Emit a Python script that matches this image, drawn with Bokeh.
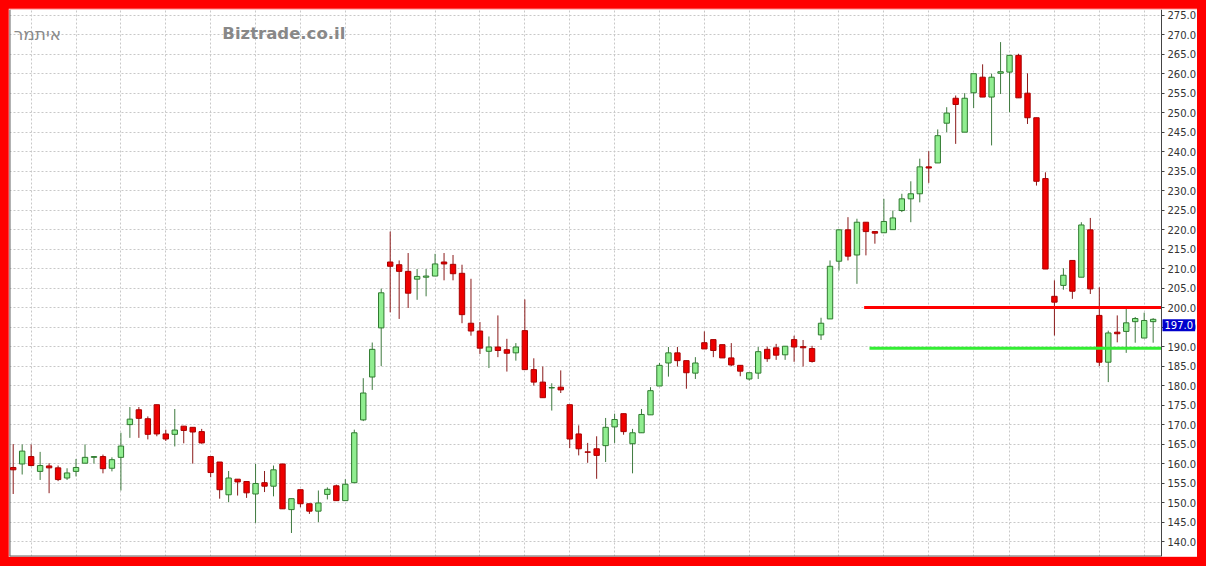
from bokeh.plotting import figure
from bokeh.models import (ColumnDataSource, Range1d, SingleIntervalTicker,
                          PrintfTickFormatter, FixedTicker, Label)
from bokeh.embed import file_html
from bokeh.resources import INLINE

# ---------------- data ----------------
opens = [159.0, 159.9, 161.8, 158.0, 159.4, 158.9, 156.3, 158.0, 160.1, 161.6,
         161.8, 158.8, 161.6, 170.0, 173.8, 171.5, 175.1, 167.6, 167.5, 169.6,
         169.3, 168.2, 161.8, 160.4, 152.0, 156.0, 155.4, 152.2, 155.1, 154.2,
         159.9, 148.2, 153.3, 149.7, 147.8, 152.1, 154.3, 150.5, 155.1, 171.2,
         182.2, 194.8, 211.7, 211.0, 209.3, 207.3, 207.8, 208.1, 211.7, 211.1,
         208.8, 196.0, 194.0, 188.8, 189.9, 189.2, 188.4, 194.1, 184.1, 180.9,
         179.4, 179.6, 175.1, 167.6, 163.0, 163.8, 164.6, 169.4, 172.8, 165.1,
         167.9, 172.5, 179.9, 185.8, 188.4, 186.4, 183.2, 191.0, 191.8, 190.5,
         187.1, 185.2, 181.7, 183.2, 189.3, 189.7, 187.9, 191.8, 190.0, 189.5,
         193.0, 197.1, 211.9, 219.95, 213.5, 221.9, 219.5, 219.2, 220.0, 224.9,
         227.9, 229.2, 236.1, 237.1, 247.3, 253.7, 245.0, 255.1, 259.1, 254.0,
         260.1, 260.4, 264.7, 255.0, 248.7, 233.1, 202.9, 205.7, 212.1, 207.8,
         219.95, 198.0, 186.0, 193.7, 193.9, 196.4, 192.2, 196.4]
highs = [165.0, 164.9, 164.9, 163.0, 160.1, 159.5, 158.8, 161.2, 164.9, 161.8,
         162.3, 161.6, 167.9, 174.5, 174.5, 172.1, 175.1, 168.7, 174.0, 169.6,
         169.3, 168.9, 161.8, 160.4, 158.1, 156.0, 155.4, 159.9, 158.1, 159.5,
         159.9, 151.0, 153.3, 149.7, 153.1, 153.9, 154.6, 156.0, 168.7, 181.9,
         191.05, 204.9, 219.5, 212.1, 214.0, 209.9, 209.9, 213.8, 214.0, 213.5,
         211.0, 207.4, 196.3, 192.6, 198.0, 192.0, 190.9, 202.1, 187.0, 184.9,
         180.6, 183.9, 175.1, 169.8, 165.3, 167.0, 171.7, 172.8, 172.8, 168.9,
         174.0, 179.6, 185.8, 189.9, 189.9, 186.4, 187.3, 193.9, 191.8, 190.5,
         190.9, 185.2, 183.3, 189.9, 190.0, 190.7, 190.1, 192.8, 191.7, 190.2,
         197.4, 212.1, 219.95, 223.2, 222.8, 221.9, 219.5, 227.9, 224.9, 229.2,
         232.4, 238.2, 240.1, 245.7, 251.4, 254.4, 255.0, 260.0, 262.4, 260.0,
         268.1, 264.7, 265.1, 260.1, 248.7, 234.7, 207.0, 210.1, 212.1, 221.9,
         223.0, 205.2, 194.1, 198.0, 200.1, 197.6, 198.7, 197.3]
lows = [152.2, 157.2, 159.3, 155.8, 152.4, 155.5, 155.8, 156.7, 160.1, 160.0,
        157.5, 158.0, 153.1, 166.6, 166.6, 166.2, 167.0, 165.8, 164.4, 165.2,
        160.0, 165.1, 156.5, 151.0, 150.1, 151.8, 151.2, 144.8, 152.7, 151.6,
        148.4, 142.2, 148.8, 147.1, 145.0, 150.8, 150.5, 150.5, 155.1, 170.9,
        178.9, 185.0, 198.8, 197.1, 199.9, 202.0, 202.9, 208.1, 207.0, 207.0,
        196.0, 192.8, 188.1, 184.5, 187.3, 183.6, 186.4, 184.1, 180.0, 176.9,
        173.6, 178.1, 164.0, 162.1, 160.2, 156.1, 160.4, 165.3, 167.4, 157.5,
        167.9, 172.5, 179.9, 182.3, 184.9, 179.2, 181.7, 189.4, 187.3, 187.1,
        185.0, 182.4, 181.3, 181.7, 186.1, 186.6, 186.6, 186.1, 184.9, 185.9,
        191.7, 197.1, 209.5, 212.1, 206.1, 213.4, 216.4, 219.2, 220.0, 224.5,
        221.9, 227.0, 232.0, 237.1, 245.0, 242.0, 245.0, 251.2, 254.0, 241.6,
        254.8, 250.1, 253.8, 247.1, 231.3, 209.9, 192.85, 204.6, 202.25, 207.8,
        203.5, 185.0, 180.9, 191.1, 188.4, 191.0, 192.2, 191.0]
closes = [158.4, 163.2, 159.5, 159.5, 158.9, 155.9, 157.6, 159.0, 161.6, 161.8,
          158.7, 161.0, 164.5, 171.4, 171.6, 167.5, 167.6, 166.3, 168.6, 168.5,
          168.1, 165.3, 157.7, 153.3, 156.3, 155.3, 152.5, 154.9, 154.2, 158.4,
          148.4, 151.0, 149.7, 147.8, 149.9, 153.4, 150.5, 154.7, 167.9, 178.1,
          189.3, 203.8, 210.6, 209.3, 203.7, 208.0, 208.1, 211.2, 211.2, 208.7,
          198.2, 194.0, 189.6, 189.9, 189.0, 188.3, 189.9, 184.1, 180.9, 176.9,
          179.5, 178.9, 166.3, 163.8, 162.9, 162.1, 169.3, 171.3, 168.2, 167.9,
          172.6, 178.7, 185.2, 188.4, 186.4, 183.3, 185.8, 189.4, 189.0, 187.1,
          185.3, 183.7, 183.3, 188.7, 186.9, 187.8, 190.1, 189.9, 189.7, 186.2,
          196.0, 210.6, 219.95, 213.2, 221.9, 219.5, 219.1, 222.1, 223.0, 227.9,
          229.2, 236.1, 235.8, 244.1, 249.9, 252.1, 253.7, 260.0, 254.0, 259.1,
          260.5, 264.7, 253.8, 248.7, 232.4, 209.9, 201.4, 208.3, 204.2, 221.2,
          204.8, 186.0, 193.5, 193.3, 196.1, 197.2, 196.7, 197.0]

week_start_idx = [2, 7, 12, 17, 22, 27, 32, 37, 42, 47, 52, 57, 62, 67, 72, 77,
                  82, 87, 92, 97, 102, 107, 111, 116, 121, 126]

resistance_level = 200.0
resistance_from = 94.8
support_level = 189.6
support_from = 95.4
last_price = 197.0
author = "איתמר"
watermark = "Biztrade.co.il"

# ---------------- build ----------------
n = len(opens)
xs = list(range(n))
up = [c >= o for o, c in zip(opens, closes)]
src = ColumnDataSource(dict(
    x=xs, o=opens, h=highs, l=lows, c=closes,
    top=[max(o, c) for o, c in zip(opens, closes)],
    bottom=[min(o, c) for o, c in zip(opens, closes)],
    fill=["#90ee90" if u else "#ee0000" for u in up],
    line=["#2f7a2f" if u else "#a80000" for u in up],
    wick=["#3f7a3f" if u else "#8b1a1a" for u in up],
))

# frame covers the whole white area; the price axis sits at a fixed
# location inside it so the last-price badge is not clipped
x_start, x_end = -0.412, 131.94
axis_x = 127.93
y_start, y_end = 136.17, 276.46

p = figure(width=1189, height=549,
           x_range=Range1d(x_start, x_end), y_range=Range1d(y_start, y_end),
           x_axis_location=None, y_axis_location="right",
           output_backend="svg", toolbar_location=None,
           min_border_left=1, min_border_top=1, min_border_bottom=1,
           min_border_right=0,
           background_fill_color="white", border_fill_color="white",
           outline_line_color=None)

p.ygrid.grid_line_color = "#c8c8c8"
p.ygrid.grid_line_dash = "2 2"
p.xgrid.ticker = FixedTicker(ticks=week_start_idx)
p.xgrid.grid_line_color = "#c8c8c8"
p.xgrid.grid_line_dash = "2 2"

# blank out the label column to the right of the price axis
p.quad(left=[axis_x], right=[x_end], bottom=[y_start], top=[y_end],
       fill_color="white", line_color=None)
# frame edges (left and bottom)
p.segment(x0=[x_start, x_start], y0=[y_start, y_start],
          x1=[x_start, axis_x], y1=[y_end, y_start],
          line_color="#666666", line_width=2)

p.segment(x0="x", y0="l", x1="x", y1="h", line_color="wick", line_width=1, source=src)
p.vbar(x="x", width=0.6, top="top", bottom="bottom",
       fill_color="fill", line_color="line", line_width=1, source=src)

p.segment(x0=[resistance_from], y0=[resistance_level], x1=[axis_x], y1=[resistance_level],
          line_color="#ff0000", line_width=3)
p.segment(x0=[support_from], y0=[support_level], x1=[axis_x], y1=[support_level],
          line_color="#33ee33", line_width=3)

ax = p.yaxis[0]
ax.fixed_location = axis_x
ax.ticker = SingleIntervalTicker(interval=5, num_minor_ticks=0)
ax.formatter = PrintfTickFormatter(format="%.1f")
ax.major_label_text_font = "DejaVu Sans"
ax.major_label_text_font_size = "10px"
ax.major_label_text_color = "#333333"
ax.axis_line_color = "#444444"
ax.major_tick_line_color = "#444444"
ax.major_tick_in = 0
ax.major_tick_out = 3
ax.major_label_standoff = 3
ax.minor_tick_line_color = None

p.add_layout(Label(x=0.05, y=270.3, text=author, text_font="DejaVu Sans",
                   text_font_size="17px", text_color="#8a8a8a",
                   text_baseline="middle", text_align="left"))
p.add_layout(Label(x=23.3, y=270.3, text=watermark, text_font="DejaVu Sans",
                   text_font_size="16.5px", text_font_style="bold",
                   text_color="#888888", text_baseline="middle", text_align="left"))
p.add_layout(Label(x=axis_x, y=last_price, x_offset=1,
                   text=f"{last_price:.1f}", text_font="DejaVu Sans",
                   text_font_size="10px", text_color="white",
                   background_fill_color="#0000cc", text_baseline="top",
                   text_align="left", padding=2))

html = file_html(p, INLINE)
css = ("<style>html, body { background-color: #ff0000 !important; } "
       "body { padding: 8px !important; }</style>")
html = html.replace("</head>", css + "</head>", 1)
open("out.html", "w").write(html)
